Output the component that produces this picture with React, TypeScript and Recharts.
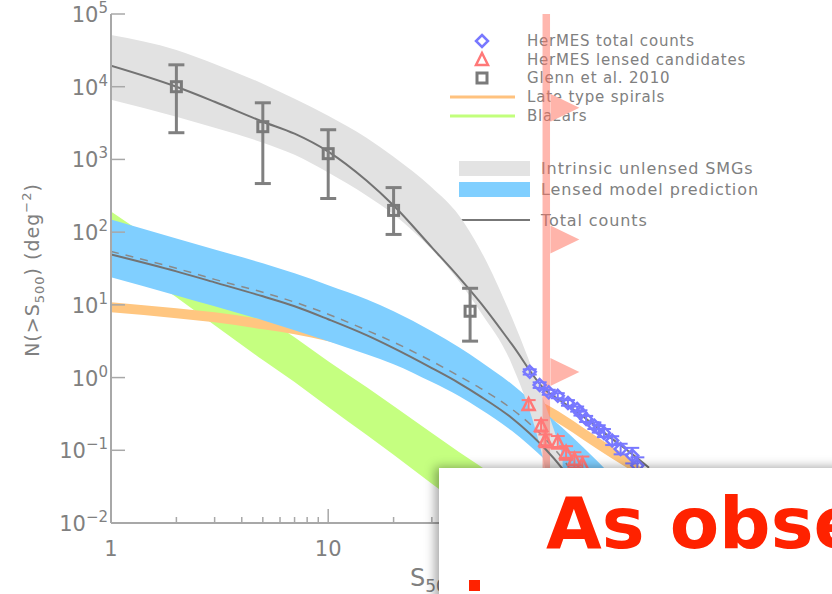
import React from "react";
import {
  ComposedChart,
  Area,
  Line,
  Scatter,
  XAxis,
  YAxis,
  ErrorBar,
  ReferenceArea,
  Customized,
} from "recharts";

// S500 sampling (mJy) shared by the model curves
const fluxGrid = [1, 2, 3, 5, 7, 10, 15, 20, 30, 40, 50, 70, 100, 120, 150, 200, 250, 300];

// model bands as [low, high] N(>S) in deg^-2, null where not drawn
const intrinsicBand = [
  [6610, 51500], [3870, 32100], [2730, 20600], [1700, 11000], [1160, 6820], [659, 3990],
  [319, 1990], [175, 1090], [57.9, 410], [21.1, 169], [8.17, 57.9], [1.53, 6.76],
  [0.0556, 0.42], [0.003, 0.0838], null, null, null, null,
];
const lensedBand = [
  [23.9, 149], [13.5, 82], [9.57, 57.9], [6.15, 37.2], [4.49, 27.1], [3.17, 18.6],
  [2.1, 11.9], [1.53, 8.17], [0.867, 4.34], [0.557, 2.62], [0.37, 1.68], [0.185, 0.815],
  [0.0738, 0.326], [0.0446, 0.203], [0.0222, 0.108], [0.0086, 0.046], null, null,
];
const spiralBand = [
  [7.9, 10.9], [6.55, 8.98], [5.77, 7.92], [4.62, 6.34], [3.95, 5.42], [3.17, 4.34],
  [2.31, 3.17], [1.79, 2.46], [1.19, 1.63], [0.867, 1.19], [0.674, 0.924], [0.461, 0.632],
  [0.297, 0.434], [0.216, 0.316], [0.139, 0.203], [0.079, 0.115], [0.051, 0.074], [0.03, 0.045],
];
const blazarBand = [
  [54.3, 192], [12.7, 46.4], [5.25, 19.8], [1.74, 6.98], [0.867, 3.59], [0.394, 1.68],
  [0.163, 0.741], [0.0865, 0.406], [0.0346, 0.173], [0.0184, 0.095], [0.0115, 0.061], [0.0052, 0.0305],
  [0.0022, 0.0143], null, null, null, null, null,
];
const totalCounts = [19400, 9970, 6210, 3300, 2260, 1280, 512, 232, 61.7, 23.9, 10.9, 2.88, 0.674, 0.461, 0.287, 0.148, 0.0893, 0.0574];
const lensedTotal = [49.4, 28.9, 20.4, 13.1, 9.57, 6.34, 3.83, 2.54, 1.35, 0.841, 0.557, 0.278, 0.104, 0.0556, 0.0222, null, null, null];
const lensedMedian = [54.3, 31.8, 22.4, 14.9, 10.9, 7.43, 4.49, 3.07, 1.68, 1.05, 0.718, 0.37, 0.143, 0.0762, 0.0305, null, null, null];

// Glenn et al. 2010
const glennFlux = [2, 5, 10, 20, 45];
const glennCounts = [10000, 2820, 1200, 199, 8.17];
const glennLow = [2330, 466, 290, 93, 3.17];
const glennHigh = [20000, 6010, 2560, 410, 16.9];

// HerMES total counts
const hermesFlux = [84.7, 94.1, 103.6, 114, 127, 140, 145, 154, 168, 176, 186, 203, 222, 251, 265];
const hermesCounts = [1.2, 0.789, 0.627, 0.562, 0.447, 0.37, 0.326, 0.27, 0.218, 0.197, 0.173, 0.136, 0.104, 0.0845, 0.0617];
const hermesLow = [1.1, 0.72, 0.58, 0.52, 0.41, 0.34, 0.3, 0.245, 0.196, 0.175, 0.152, 0.118, 0.088, 0.066, 0.047];
const hermesHigh = [1.3, 0.86, 0.68, 0.61, 0.49, 0.4, 0.355, 0.297, 0.242, 0.221, 0.196, 0.156, 0.123, 0.108, 0.08];

// HerMES lensed candidates
const lensFlux = [83.7, 95.5, 100, 114, 124.5, 136, 148];
const lensCounts = [0.42, 0.218, 0.136, 0.129, 0.092, 0.074, 0.063];
const lensLow = [0.36, 0.18, 0.11, 0.105, 0.074, 0.058, 0.048];
const lensHigh = [0.49, 0.26, 0.165, 0.157, 0.114, 0.094, 0.082];

// 100 mJy cut marker
const cutFlux = [97, 105];
const flagFlux = 101;
const flagCounts = [5140, 79.4, 1.19];

const xTicks = [1, 2, 3, 4, 5, 6, 7, 8, 9, 10, 20, 30, 40, 50, 60, 70, 80, 90, 100, 200, 300, 400, 500, 600, 700, 800, 900, 1000, 2000];
const xTickLabels = [1, 10]; // the others sit under the slide box
const yTicks = [0.01, 0.1, 1, 10, 100, 1000, 10000, 100000];

const rows = fluxGrid.map((s, i) => ({
  s,
  intrinsic: intrinsicBand[i],
  lensed: lensedBand[i],
  spirals: spiralBand[i],
  blazars: blazarBand[i],
  total: totalCounts[i],
  lensedTotal: lensedTotal[i],
  lensedMedian: lensedMedian[i],
}));

const toPoints = (flux: number[], counts: number[], low: number[], high: number[]) =>
  flux.map((s, i) => ({ s, n: counts[i], err: [counts[i] - low[i], high[i] - counts[i]] }));

const glennPts = toPoints(glennFlux, glennCounts, glennLow, glennHigh);
const hermesPts = toPoints(hermesFlux, hermesCounts, hermesLow, hermesHigh);
const lensPts = toPoints(lensFlux, lensCounts, lensLow, lensHigh);
const flagPts = flagCounts.map((n) => ({ s: flagFlux, n }));

const axisColor = "#a8a8a8";
const textColor = "#808080";
const font = "'DejaVu Sans', sans-serif";

const isMajor = (v: number) => Math.abs(Math.log10(v) - Math.round(Math.log10(v))) < 1e-6;

const BottomTick = (props: any) => {
  const { x, y, payload } = props;
  const v = payload.value;
  const major = isMajor(v);
  return (
    <g>
      <line x1={x} x2={x} y1={y} y2={y - (major ? 14 : 6)} stroke={axisColor} strokeWidth={1.5} />
      {xTickLabels.includes(v) && (
        <text x={x} y={y + 33} textAnchor="middle" fontSize={21} fill={textColor} fontFamily={font}>
          {v}
        </text>
      )}
    </g>
  );
};

const TopTick = (props: any) => {
  const { x, y, payload } = props;
  const major = isMajor(payload.value);
  return <line x1={x} x2={x} y1={y} y2={y + (major ? 14 : 6)} stroke={axisColor} strokeWidth={1.5} />;
};

const LeftTick = (props: any) => {
  const { x, y, payload } = props;
  const e = Math.round(Math.log10(payload.value));
  return (
    <g>
      <line x1={x} x2={x + 14} y1={y} y2={y} stroke={axisColor} strokeWidth={1.5} />
      <text x={x - 3} y={y + 8} textAnchor="end" fontSize={21} fill={textColor} fontFamily={font}>
        10
        <tspan dy={-9} fontSize={15}>
          {e < 0 ? "\u2212" + Math.abs(e) : e}
        </tspan>
      </text>
    </g>
  );
};

const RightTick = (props: any) => {
  const { x, y } = props;
  return <line x1={x} x2={x - 14} y1={y} y2={y} stroke={axisColor} strokeWidth={1.5} />;
};

const Diamond = (props: any) => {
  const { cx, cy } = props;
  return (
    <path
      d={`M${cx},${cy - 6}L${cx + 6},${cy}L${cx},${cy + 6}L${cx - 6},${cy}Z`}
      fill="none"
      stroke="#7878ff"
      strokeWidth={2.5}
    />
  );
};

const Triangle = (props: any) => {
  const { cx, cy } = props;
  return (
    <path
      d={`M${cx},${cy - 7}L${cx + 6},${cy + 5}L${cx - 6},${cy + 5}Z`}
      fill="none"
      stroke="#ff7878"
      strokeWidth={2.5}
    />
  );
};

const Square = (props: any) => {
  const { cx, cy } = props;
  return <rect x={cx - 5} y={cy - 5} width={10} height={10} fill="none" stroke="#7a7a7a" strokeWidth={3} />;
};

const Flag = (props: any) => {
  const { cx, cy } = props;
  return <path d={`M${cx + 4},${cy - 14}L${cx + 33},${cy}L${cx + 4},${cy + 14}Z`} fill="#ffb4aa" />;
};

const Decorations = () => (
  <g fontFamily={font} fill={textColor}>
    {/* legend */}
    <path d="M482,35L488,41L482,47L476,41Z" fill="none" stroke="#7878ff" strokeWidth={2.5} />
    <path d="M482,53L488,65L476,65Z" fill="none" stroke="#ff7878" strokeWidth={2.5} />
    <rect x={477} y={73} width={10} height={10} fill="none" stroke="#7a7a7a" strokeWidth={3} />
    <line x1={450} x2={515} y1={97} y2={97} stroke="#ffc27e" strokeWidth={3} />
    <line x1={450} x2={515} y1={116} y2={116} stroke="#c2ff7c" strokeWidth={3} />
    <rect x={459} y={161} width={71} height={15} fill="#e3e3e3" />
    <rect x={459} y={182} width={71} height={15} fill="#80cfff" />
    <line x1={459} x2={530} y1={220} y2={220} stroke="#777777" strokeWidth={2} />
    <g fontSize={15} letterSpacing={0.8}>
      <text x={527} y={46}>HerMES total counts</text>
      <text x={527} y={65}>HerMES lensed candidates</text>
      <text x={527} y={83}>Glenn et al. 2010</text>
      <text x={527} y={102}>Late type spirals</text>
      <text x={527} y={121}>Blazars</text>
    </g>
    <g fontSize={16} letterSpacing={0.9}>
      <text x={541} y={174}>Intrinsic unlensed SMGs</text>
      <text x={541} y={195}>Lensed model prediction</text>
      <text x={541} y={226}>Total counts</text>
    </g>
    {/* axis titles */}
    <text transform="translate(39,270) rotate(-90)" textAnchor="middle" fontSize={19} letterSpacing={1}>
      N(&gt;S
      <tspan fontSize={13} dy={5}>500</tspan>
      <tspan dy={-5}>) (deg</tspan>
      <tspan fontSize={13} dy={-8}>{"\u22122"}</tspan>
      <tspan dy={8}>)</tspan>
    </text>
    <text x={410} y={586} fontSize={24}>
      S
      <tspan fontSize={17} dy={6}>500</tspan>
      <tspan dy={-6}> (mJy)</tspan>
    </text>
  </g>
);

export default function App() {
  return (
    <div
      style={{
        position: "absolute",
        left: 0,
        top: 0,
        width: 832,
        height: 594,
        overflow: "hidden",
        background: "#ffffff",
      }}
    >
      <ComposedChart width={832} height={594} data={rows} margin={{ top: 14, right: 4, bottom: 0, left: 0 }}>
        <XAxis
          dataKey="s"
          type="number"
          scale="log"
          domain={[1, 2000]}
          allowDataOverflow
          ticks={xTicks}
          interval={0}
          height={71}
          tickSize={0}
          tickMargin={0}
          tickLine={false}
          tick={<BottomTick />}
          axisLine={{ stroke: axisColor, strokeWidth: 2 }}
        />
        <XAxis
          xAxisId="top"
          orientation="top"
          dataKey="s"
          type="number"
          scale="log"
          domain={[1, 2000]}
          allowDataOverflow
          ticks={xTicks}
          interval={0}
          height={0}
          tickSize={0}
          tickMargin={0}
          tickLine={false}
          tick={<TopTick />}
          axisLine={{ stroke: axisColor, strokeWidth: 2 }}
        />
        <YAxis
          dataKey="n"
          type="number"
          scale="log"
          domain={[0.01, 100000]}
          allowDataOverflow
          ticks={yTicks}
          interval={0}
          width={111}
          tickSize={0}
          tickMargin={0}
          tickLine={false}
          tick={<LeftTick />}
          axisLine={{ stroke: axisColor, strokeWidth: 2 }}
        />
        <YAxis
          yAxisId="right"
          orientation="right"
          type="number"
          scale="log"
          domain={[0.01, 100000]}
          allowDataOverflow
          ticks={yTicks}
          interval={0}
          width={0}
          tickSize={0}
          tickMargin={0}
          tickLine={false}
          tick={<RightTick />}
          axisLine={{ stroke: axisColor, strokeWidth: 2 }}
        />

        <Area dataKey="blazars" type="monotone" stroke="none" fill="#c5ff80" fillOpacity={1} isAnimationActive={false} dot={false} activeDot={false} />
        <Area dataKey="spirals" type="monotone" stroke="none" fill="#ffc680" fillOpacity={1} isAnimationActive={false} dot={false} activeDot={false} />
        <Area dataKey="lensed" type="monotone" stroke="none" fill="#80cfff" fillOpacity={1} isAnimationActive={false} dot={false} activeDot={false} />
        <Area dataKey="intrinsic" type="monotone" stroke="none" fill="#e2e2e2" fillOpacity={1} isAnimationActive={false} dot={false} activeDot={false} />

        <Line dataKey="total" type="monotone" stroke="#737373" strokeWidth={2} dot={false} activeDot={false} isAnimationActive={false} />
        <Line dataKey="lensedTotal" type="monotone" stroke="#737373" strokeWidth={2} dot={false} activeDot={false} isAnimationActive={false} />
        <Line dataKey="lensedMedian" type="monotone" stroke="#8a8a8a" strokeWidth={1.5} strokeDasharray="8 7" dot={false} activeDot={false} isAnimationActive={false} />

        <Scatter data={glennPts} dataKey="n" shape={<Square />} isAnimationActive={false}>
          <ErrorBar dataKey="err" direction="y" width={8} strokeWidth={3} stroke="#808080" />
        </Scatter>
        <Scatter data={lensPts} dataKey="n" shape={<Triangle />} isAnimationActive={false}>
          <ErrorBar dataKey="err" direction="y" width={7} strokeWidth={2} stroke="#ff7878" />
        </Scatter>
        <Scatter data={hermesPts} dataKey="n" shape={<Diamond />} isAnimationActive={false}>
          <ErrorBar dataKey="err" direction="y" width={7} strokeWidth={2} stroke="#7878ff" />
        </Scatter>

        <Customized component={<Decorations />} />

        <ReferenceArea x1={cutFlux[0]} x2={cutFlux[1]} fill="#ff6f5e" fillOpacity={0.5} stroke="none" ifOverflow="hidden" />
        <Scatter data={flagPts} dataKey="n" shape={<Flag />} isAnimationActive={false} />
      </ComposedChart>

      <div
        style={{
          position: "absolute",
          left: 439,
          top: 468,
          width: 440,
          height: 160,
          background: "#ffffff",
          boxShadow: "-4px -1px 10px rgba(0,0,0,0.35)",
        }}
      >
        <div
          style={{
            position: "absolute",
            left: 107,
            top: 19,
            fontFamily: "'DejaVu Sans', sans-serif",
            fontWeight: 700,
            fontSize: 72,
            lineHeight: 1,
            color: "#ff2200",
            whiteSpace: "nowrap",
          }}
        >
          As obse
        </div>
        <div style={{ position: "absolute", left: 30, top: 112, width: 11, height: 11, background: "#ff2200" }} />
      </div>
    </div>
  );
}
